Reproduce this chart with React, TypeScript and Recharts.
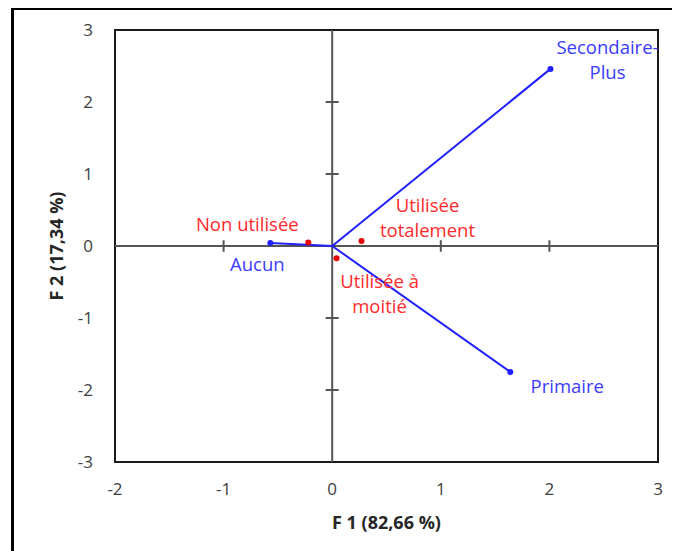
import React from 'react';
import {
  ScatterChart,
  Scatter,
  XAxis,
  YAxis,
  ReferenceLine,
  ReferenceArea,
  Label,
} from 'recharts';

// Modalités "niveau d'instruction" (bleu) et "utilisation" (rouge) sur F1 x F2
const niveauNoms = ['Aucun', 'Primaire', 'Secondaire-Plus'];
const niveauF1 = [-0.57, 1.64, 2.01];
const niveauF2 = [0.04, -1.75, 2.46];

const usageNoms = ['Non utilisée', 'Utilisée totalement', 'Utilisée à moitié'];
const usageF1 = [-0.22, 0.27, 0.04];
const usageF2 = [0.05, 0.07, -0.17];

const xTicks = [-2, -1, 0, 1, 2, 3];
const yTicks = [-3, -2, -1, 0, 1, 2, 3];

const BLUE = '#1f1fff';
const BLUE_TEXT = '#3b3bff';
const RED = '#e60000';
const RED_TEXT = '#ff2a2a';
const FONT = '"Open Sans", sans-serif';
const LINE_GAP = 25;

// label placement (px offsets from the point) and line breaks
const labelLayout: Record<string, { lines: string[]; dx: number; dy: number }> = {
  Aucun: { lines: ['Aucun'], dx: -13, dy: 20 },
  Primaire: { lines: ['Primaire'], dx: 57, dy: 13 },
  'Secondaire-Plus': { lines: ['Secondaire-', 'Plus'], dx: 57, dy: -22 },
  'Non utilisée': { lines: ['Non utilisée'], dx: -61, dy: -19 },
  'Utilisée totalement': { lines: ['Utilisée', 'totalement'], dx: 66, dy: -36 },
  'Utilisée à moitié': { lines: ['Utilisée à', 'moitié'], dx: 43, dy: 22 },
};

const niveauData = niveauNoms.map((name, i) => ({ name, x: niveauF1[i], y: niveauF2[i] }));
const usageData = usageNoms.map((name, i) => ({ name, x: usageF1[i], y: usageF2[i] }));

const makePoint = (dotColor: string, textColor: string) => (props: any) => {
  const { cx, cy, payload } = props;
  const layout = labelLayout[payload.name];
  const tx = cx + layout.dx;
  return (
    <g>
      <circle cx={cx} cy={cy} r={3} fill={dotColor} />
      {layout.lines.map((line, i) => (
        <text
          key={line}
          x={tx}
          y={cy + layout.dy + i * LINE_GAP}
          textAnchor="middle"
          dominantBaseline="central"
          fontFamily={FONT}
          fontSize={18.5}
          fill={textColor}
        >
          {line}
        </text>
      ))}
    </g>
  );
};

const tickStyle = { fontFamily: FONT, fontSize: 17, fill: '#404040' };

export default function App() {
  return (
    <div style={{ position: 'relative', width: 672, height: 543, overflow: 'hidden', background: '#fff' }}>
      <div
        style={{
          position: 'absolute',
          left: 3,
          top: -1,
          width: 700,
          height: 600,
          border: '3px solid #000',
        }}
      />
      <div style={{ position: 'absolute', left: 0, top: 0 }}>
        <ScatterChart width={672} height={543} margin={{ top: 22, right: 22, left: 0, bottom: 0 }}>
          <XAxis
            type="number"
            dataKey="x"
            domain={[-2, 3]}
            ticks={xTicks}
            axisLine={false}
            tickLine={false}
            tickSize={0}
            tickMargin={21}
            height={89}
            tick={tickStyle}
          >
            <Label
              value="F 1 (82,66 %)"
              position="insideBottom"
              offset={22}
              style={{ fontFamily: FONT, fontSize: 18, fontWeight: 700, fill: '#262626' }}
            />
          </XAxis>
          <YAxis
            type="number"
            dataKey="y"
            domain={[-3, 3]}
            ticks={yTicks}
            axisLine={false}
            tickLine={false}
            tickSize={0}
            tickMargin={22}
            width={107}
            tick={tickStyle}
          >
            <Label
              value="F 2 (17,34 %)"
              angle={-90}
              position="insideLeft"
              offset={49}
              style={{ textAnchor: 'middle', fontFamily: FONT, fontSize: 18, fontWeight: 700, fill: '#262626' }}
            />
          </YAxis>

          <ReferenceArea x1={-2} x2={3} y1={-3} y2={3} fill="none" stroke="#1a1a1a" strokeWidth={2} />
          <ReferenceLine x={0} stroke="#555" strokeWidth={2} />
          <ReferenceLine y={0} stroke="#555" strokeWidth={2} />
          {xTicks
            .filter((t) => t !== 0 && t > -2 && t < 3)
            .map((t) => (
              <ReferenceLine
                key={`xt${t}`}
                segment={[
                  { x: t, y: -0.08 },
                  { x: t, y: 0.08 },
                ]}
                stroke="#555"
                strokeWidth={2}
              />
            ))}
          {yTicks
            .filter((t) => t !== 0 && t > -3 && t < 3)
            .map((t) => (
              <ReferenceLine
                key={`yt${t}`}
                segment={[
                  { x: -0.06, y: t },
                  { x: 0.06, y: t },
                ]}
                stroke="#555"
                strokeWidth={2}
              />
            ))}

          {niveauData.map((d) => (
            <ReferenceLine
              key={`seg-${d.name}`}
              segment={[
                { x: 0, y: 0 },
                { x: d.x, y: d.y },
              ]}
              stroke={BLUE}
              strokeWidth={2}
            />
          ))}

          <Scatter data={niveauData} shape={makePoint(BLUE, BLUE_TEXT)} isAnimationActive={false} />
          <Scatter data={usageData} shape={makePoint(RED, RED_TEXT)} isAnimationActive={false} />
        </ScatterChart>
      </div>
    </div>
  );
}
